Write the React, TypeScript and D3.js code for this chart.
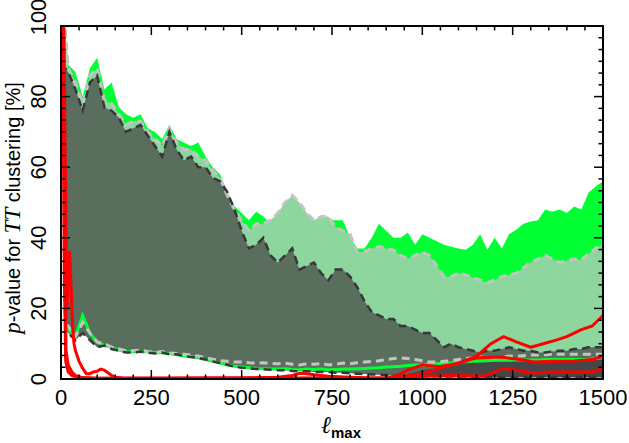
import * as d3 from "d3";

const W = 629;
const H = 443;
const mL = 61;
const mR = 26;
const mT = 26;
const mB = 64;

// multipole grid shared by the bands
const ell = [12, 20, 40, 60, 80, 100, 120, 140, 160, 180, 200, 220, 240, 260, 280, 300, 320, 340, 360, 380, 400, 420, 440, 460, 480, 500, 520, 540, 560, 580, 600, 620, 640, 660, 680, 700, 720, 740, 760, 780, 800, 820, 840, 860, 880, 900, 920, 940, 960, 980, 1000, 1020, 1040, 1060, 1080, 1100, 1120, 1140, 1160, 1180, 1200, 1220, 1240, 1260, 1280, 1300, 1320, 1340, 1360, 1380, 1400, 1420, 1440, 1460, 1480, 1500];

const greenHi = [99, 89, 87, 80, 88, 91, 82, 84, 77, 75, 74, 75, 71, 70, 68, 72, 68, 67, 66, 67, 63, 60, 58, 53, 49, 47, 45, 47.4, 46, 44, 46, 49, 51, 49, 46, 44, 45, 45, 45, 45, 40, 37, 37, 40, 44, 42, 40, 40, 41.5, 38, 41, 40, 39, 38, 37.5, 37, 36.6, 38, 41, 36.6, 40, 37, 41, 42.3, 44, 44.6, 45, 48, 47.4, 48, 47, 48.9, 48, 52.8, 54.5, 56];
const greenLo = [16, 14, 12, 18, 13, 10.5, 9.5, 9, 8.2, 7.8, 7.7, 7.8, 7.7, 7.5, 7.4, 7.2, 6.9, 6.6, 6.4, 6, 5.5, 5, 4.5, 4, 3.6, 3.4, 3.2, 3, 2.9, 2.8, 2.8, 2.9, 2.7, 2.6, 2.8, 2.7, 2.8, 2.6, 2.7, 2.8, 2.8, 2.9, 3, 3.1, 3.2, 3.4, 3.5, 3.6, 3.8, 4, 4, 4.2, 4.3, 4.5, 4.6, 4.8, 5, 5, 5.1, 5.2, 5.3, 5.3, 5.3, 5.4, 5.4, 5.4, 5.4, 5.5, 5.5, 5.5, 5.5, 5.5, 5.5, 5.6, 5.8, 6];

const grayHi = [99, 88, 84, 78, 86, 88, 79, 78, 75, 72, 73, 73, 70, 68, 66, 71, 67, 65, 65, 63, 62, 59, 57, 52, 48, 45, 42, 44, 44, 45, 47, 50, 52, 50, 47, 45, 46, 46, 43, 42, 41, 36, 36, 37, 37.5, 37, 36.5, 35, 34, 35, 36, 35, 32, 29, 29, 30, 29.5, 28.7, 28, 27.3, 28, 29, 29.5, 30, 31.5, 33, 34, 35, 34, 33, 33.5, 34, 33.8, 35.5, 37, 38];
const grayLo = [15, 15, 12, 16, 13, 10.5, 10, 9, 8.5, 8, 8, 8.2, 7.8, 7.5, 7.8, 7.4, 7.2, 7, 6.8, 6.5, 6, 5.6, 5.2, 5, 4.8, 4.8, 4.6, 4.5, 4.6, 4.4, 4.3, 4.5, 4.2, 4, 4.3, 4.2, 4.4, 4, 4.2, 4.5, 4.3, 4.6, 4.8, 5, 5.2, 5.5, 5.8, 6, 5.8, 5.5, 5.2, 4.8, 4.8, 5, 5.2, 5.5, 5.8, 6, 6.2, 6, 6, 6.2, 6.5, 6.4, 6.6, 6.8, 6.8, 6.9, 7, 7, 7, 7, 7, 7, 7, 7];

const darkHi = [88, 87, 82, 76, 84, 86, 77, 76, 74, 70, 71, 72, 69, 66, 63, 70, 65, 62, 63, 60, 60, 57, 56, 53, 48, 42, 37, 38, 40, 35, 33, 35, 37, 31, 32, 33, 30, 28, 31, 31, 29, 26, 22, 19, 18, 17, 17, 15, 15, 14, 13, 13, 11, 9, 10, 9, 8.5, 8, 7.5, 8, 8, 8.5, 9, 8.5, 8, 8, 7.5, 7.5, 7.8, 8, 8, 8.5, 8.5, 9, 9, 9];
const darkLo = [14, 13, 11, 13, 11, 9, 9.5, 8.5, 8, 7.5, 7.5, 7.8, 7.5, 7.2, 7.5, 7, 7, 6.5, 6.2, 6, 5.5, 5, 4.5, 4, 3.5, 3.2, 3, 2.8, 2.8, 2.6, 2.5, 2.5, 2.3, 2.2, 2.2, 2, 2, 2, 1.8, 1.8, 1.6, 1.5, 1.4, 1.3, 1.2, 1.1, 1, 1, 0.9, 0.9, 0.8, 0.8, 0.8, 0.7, 0.7, 0.7, 0.7, 0.6, 0.6, 0.6, 0.6, 0.6, 0.6, 0.6, 0.6, 0.6, 0.6, 0.6, 0.6, 0.6, 0.6, 0.6, 0.6, 0.6, 0.6, 0.6];

// high-ell dark grey band
const charEll = [940, 960, 980, 1000, 1020, 1040, 1060, 1080, 1100, 1120, 1140, 1160, 1180, 1200, 1220, 1240, 1260, 1280, 1300, 1320, 1340, 1360, 1380, 1400, 1420, 1440, 1460, 1480, 1500];
const charLo = [0.6, 0.6, 0.6, 0.5, 0.5, 0.5, 0.5, 0.5, 0.5, 0.4, 0.4, 0.4, 0.4, 0.4, 0.4, 0.4, 0.4, 0.4, 0.4, 0.4, 0.4, 0.4, 0.4, 0.4, 0.4, 0.4, 0.4, 0.4, 0.4];
const charHi = [0.8, 1.5, 2, 2.5, 2.8, 3, 3.3, 3.6, 4, 4.4, 4.6, 4.7, 4.8, 4.9, 5, 5, 5.1, 5.1, 5.1, 5.1, 5.2, 5.2, 5.2, 5.2, 5.2, 5.3, 5.3, 5.5, 5.7];

// red curves [ell, p]
const redA = [[0, 100], [4, 100], [8, 100], [12, 60], [16, 20], [20, 28], [24, 36], [28, 26], [32, 15], [36, 10], [40, 8], [50, 5], [60, 3], [70, 1.5], [80, 1.5], [90, 2], [100, 2.2], [110, 2.8], [120, 2.5], [130, 1.8], [140, 1], [150, 0.5], [170, 0.3], [200, 0.2], [300, 0.2], [400, 0.3], [500, 0.3], [600, 0.5], [640, 1], [660, 1.6], [680, 1.5], [700, 1.2], [740, 0.8], [800, 0.5], [860, 0.3], [900, 0.3], [930, 1], [960, 2.5], [1000, 4], [1050, 3.5], [1100, 4.5], [1150, 6.5], [1190, 10], [1225, 12], [1260, 10.5], [1300, 9], [1335, 10], [1370, 11], [1400, 12], [1440, 14], [1470, 15], [1500, 18]];
const redB = [[0, 100], [6, 100], [10, 40], [14, 8], [20, 4], [30, 2], [40, 1], [60, 0.4], [100, 0.2], [300, 0.2], [600, 0.3], [900, 0.2], [950, 0.8], [1000, 1.5], [1050, 3], [1100, 4.5], [1150, 6], [1220, 6.2], [1270, 5.5], [1310, 4.8], [1360, 5], [1420, 5.1], [1470, 5.5], [1500, 6.5]];
const redC = [[0, 100], [5, 100], [9, 30], [13, 5], [20, 2], [30, 1], [50, 0.3], [500, 0.2], [950, 0.3], [1000, 0.8], [1100, 1], [1170, 0.8], [1200, 2], [1228, 3], [1260, 2.5], [1310, 1.7], [1360, 2], [1420, 2], [1470, 2], [1500, 3]];

const xTicks = [0, 250, 500, 750, 1000, 1250, 1500];
const yTicks = [0, 20, 40, 60, 80, 100];

export default function App() {
  const x = d3.scaleLinear([0, 1500], [mL, W - mR]);
  const y = d3.scaleLinear([0, 100], [H - mB, mT]);

  const band = (xs: number[], lo: number[], hi: number[]) =>
    d3
      .area<number>()
      .x((d) => x(d))
      .y0((_, i) => y(lo[i]))
      .y1((_, i) => y(hi[i]))(xs) as string;

  const curve = (xs: number[], v: number[]) =>
    d3.line<number>().x((d) => x(d)).y((_, i) => y(v[i]))(xs) as string;

  const redLine = d3.line<number[]>().x((d) => x(d[0])).y((d) => y(d[1]));

  const xMinor = d3.range(0, 1501, 50);
  const yMinor = d3.range(0, 100.01, 20 / 6);
  const bottom = H - mB;
  const right = W - mR;

  const font = "'Liberation Sans', Arial, Helvetica, sans-serif";
  // the top label sits a little higher than its tick in the original
  const yLabelPos = (t: number) => (t === 100 ? y(t) - 9 : y(t));

  return (
    <svg width={W} height={H} style={{ position: "absolute", left: 0, top: 0 }} fontFamily={font}>
      <defs>
        <clipPath id="plot">
          <rect x={mL} y={mT} width={right - mL} height={bottom - mT} />
        </clipPath>
      </defs>
      <rect width={W} height={H} fill="white" />
      <g clipPath="url(#plot)">
        <path d={band(ell, greenLo, greenHi)} fill="#00ff33" />
        <path d={band(ell, grayLo, grayHi)} fill="#8dd69e" />
        <path d={band(ell, darkLo, darkHi)} fill="#5a6e5e" />
        <path d={band(charEll, charLo, charHi)} fill="#474747" />

        <path d={curve(ell, greenLo)} fill="none" stroke="#00ff33" strokeWidth={3} />
        <path d={curve(ell, grayLo)} fill="none" stroke="#c4c4c4" strokeWidth={3} strokeDasharray="8 5" />
        <path d={curve(ell, grayHi)} fill="none" stroke="#c4c4c4" strokeWidth={3} strokeDasharray="8 5" />
        <path d={curve(ell, darkLo)} fill="none" stroke="#383838" strokeWidth={2.5} strokeDasharray="8 5" strokeDashoffset={6} />
        <path d={curve(ell, darkHi)} fill="none" stroke="#383838" strokeWidth={2.5} strokeDasharray="8 5" strokeDashoffset={6} />

        {[redC, redB, redA].map((r, i) => (
          // biome-ignore lint/suspicious/noArrayIndexKey: static list
          <path key={i} d={redLine(r) as string} fill="none" stroke="#ff0000" strokeWidth={3} strokeLinejoin="round" />
        ))}
      </g>

      {/* frame and ticks */}
      <g stroke="black" strokeWidth={1.5}>
        {xMinor.map((t) => {
          const len = t % 250 === 0 ? 9 : 4.5;
          return (
            <g key={`x${t}`}>
              <line x1={x(t)} x2={x(t)} y1={bottom} y2={bottom - len} />
              <line x1={x(t)} x2={x(t)} y1={mT} y2={mT + len} />
            </g>
          );
        })}
        {yMinor.map((t, i) => {
          const len = i % 6 === 0 ? 9 : 4.5;
          return (
            <g key={`y${i}`}>
              <line x1={mL} x2={mL + len} y1={y(t)} y2={y(t)} />
              <line x1={right} x2={right - len} y1={y(t)} y2={y(t)} />
            </g>
          );
        })}
        <rect x={mL} y={mT} width={right - mL} height={bottom - mT} fill="none" strokeWidth={2} />
      </g>

      {xTicks.map((t) => (
        <text key={t} x={x(t)} y={405} textAnchor="middle" fontSize={22}>
          {t}
        </text>
      ))}
      {yTicks.map((t) => (
        <text key={t} transform={`translate(46,${yLabelPos(t)}) rotate(-90)`} textAnchor="middle" fontSize={22}>
          {t}
        </text>
      ))}

      <text transform="translate(20,208) rotate(-90)" textAnchor="middle" fontSize={20}>
        <tspan fontFamily="'Liberation Serif', serif" fontStyle="italic" fontSize={23}>p</tspan>
        -value for{" "}
        <tspan fontFamily="'Liberation Serif', serif" fontStyle="italic" fontSize={23}>TT</tspan>
        {" "}clustering [%]
      </text>

      <text x={341} y={433} textAnchor="middle" fontSize={24}>
        <tspan fontFamily="'DejaVu Serif', serif" fontStyle="italic">ℓ</tspan>
        <tspan fontSize={15} dy={5} fontWeight="bold">max</tspan>
      </text>
    </svg>
  );
}
